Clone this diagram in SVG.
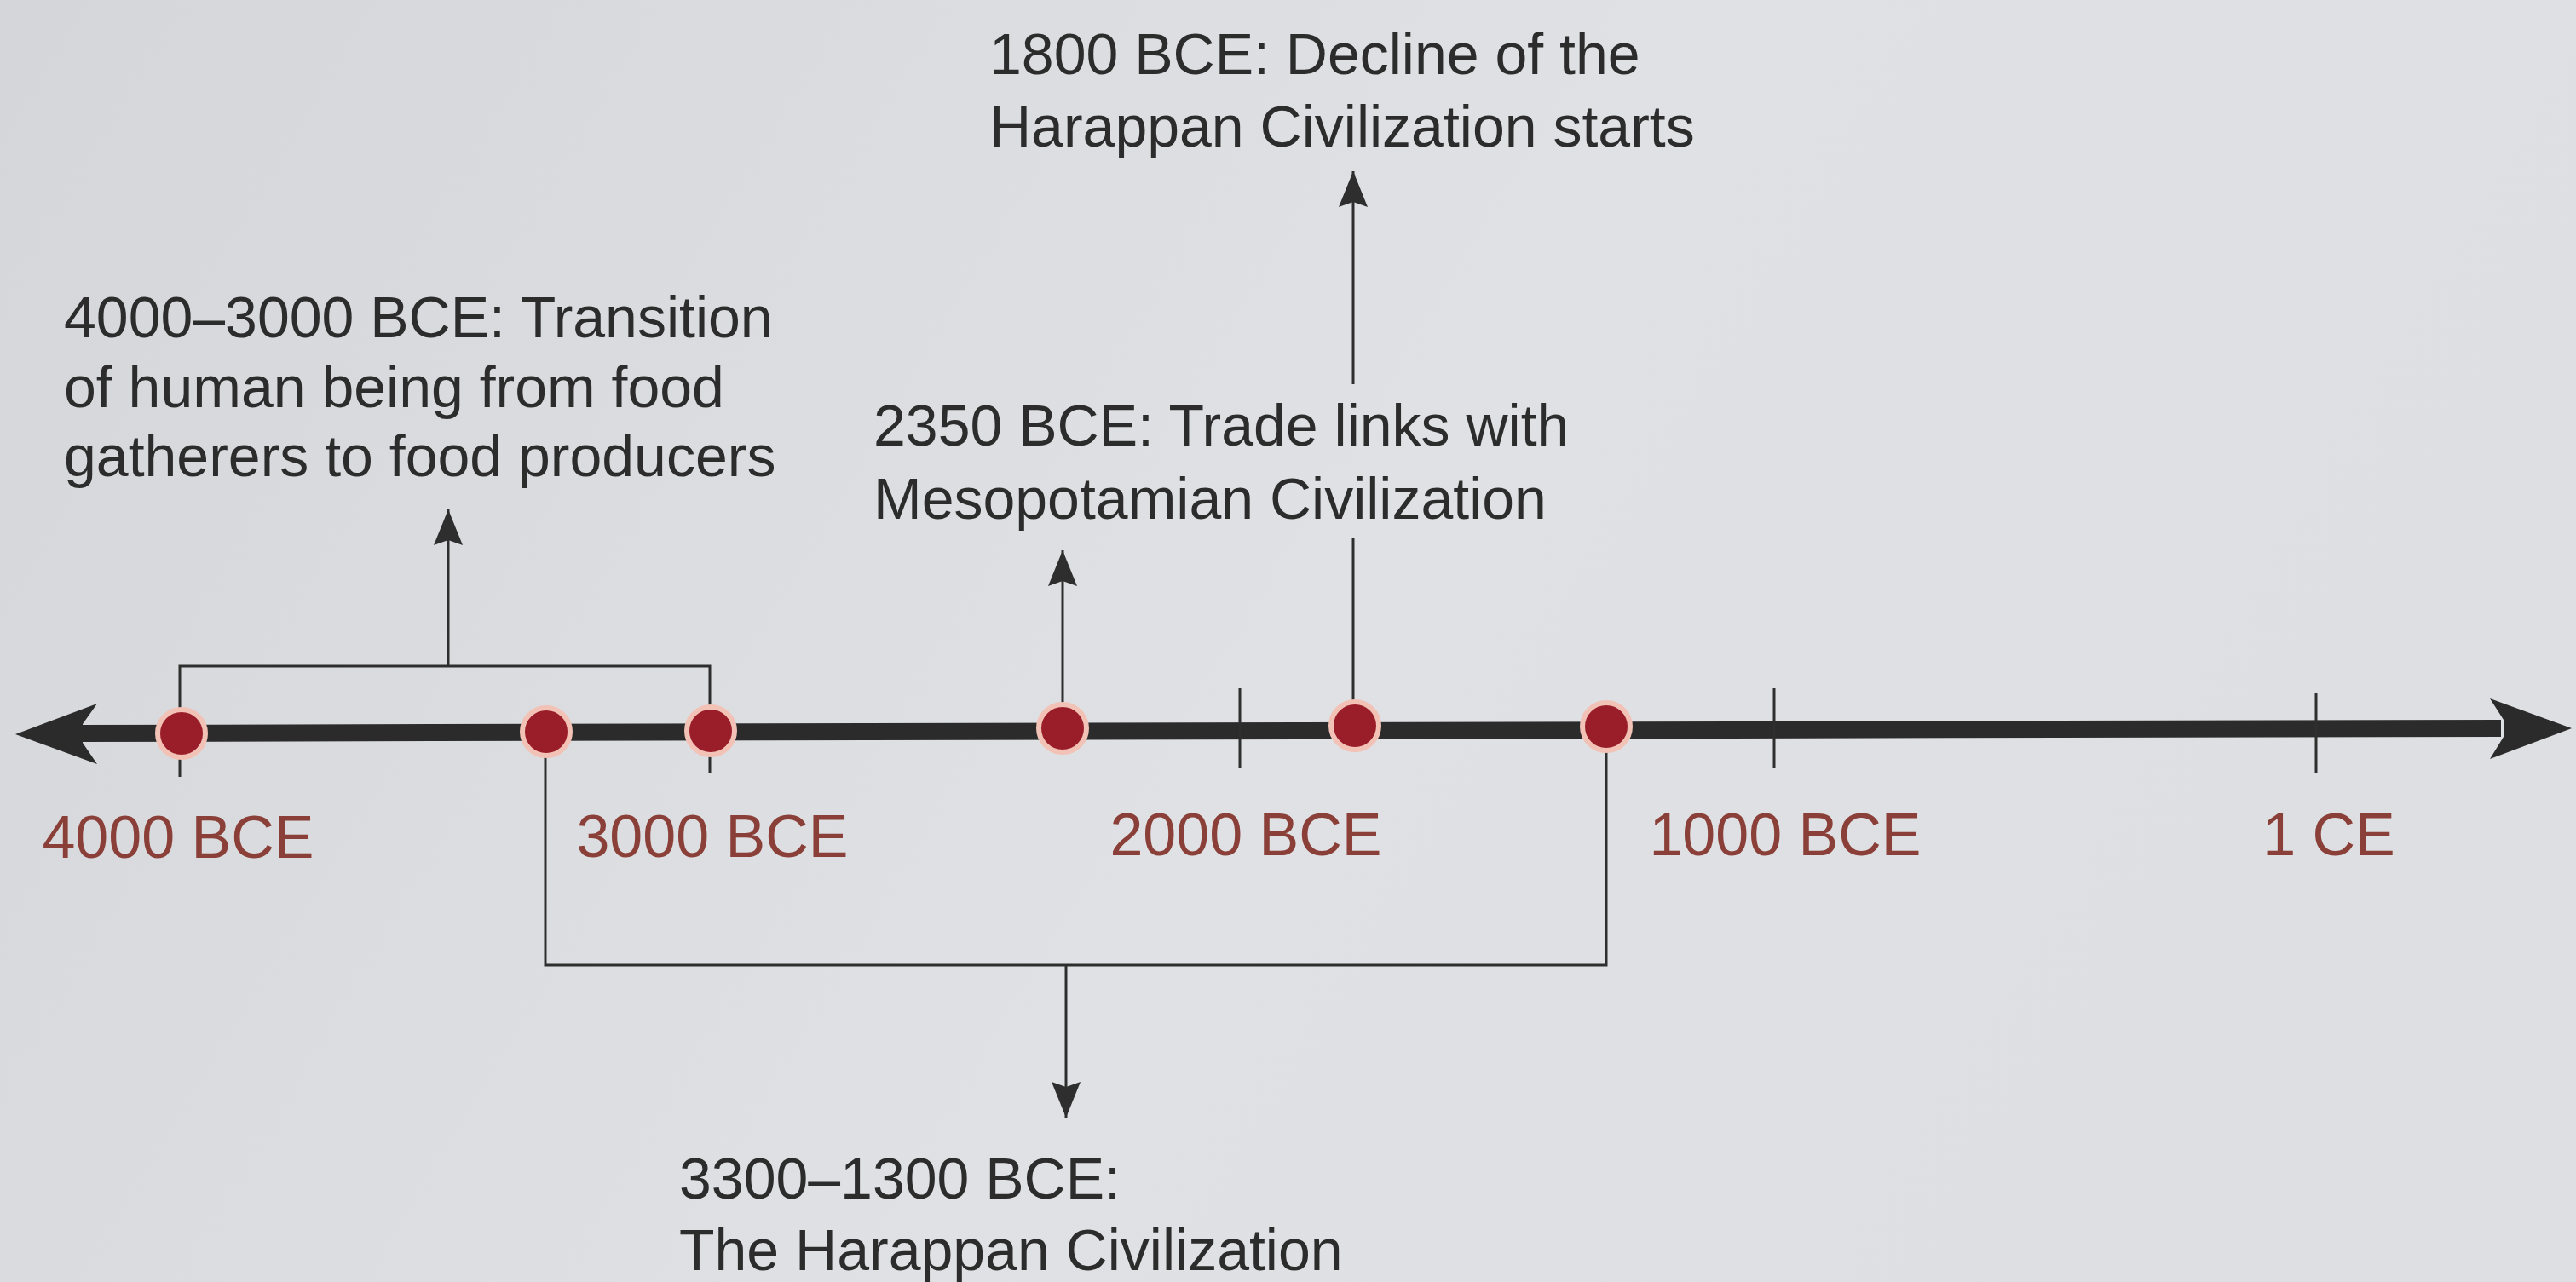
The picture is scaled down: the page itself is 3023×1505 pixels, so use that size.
<svg xmlns="http://www.w3.org/2000/svg" width="3023" height="1505" viewBox="0 0 3023 1505">
<defs>
<linearGradient id="bg" x1="0" y1="0" x2="1" y2="0.3">
<stop offset="0" stop-color="#d5d6d9"/>
<stop offset="0.6" stop-color="#e0e1e4"/>
<stop offset="1" stop-color="#dedfe2"/>
</linearGradient>
<marker id="ah" markerUnits="userSpaceOnUse" markerWidth="44" markerHeight="34" refX="42" refY="17" orient="auto">
<path d="M0,0 L42,17 L0,34 L6,17 Z" fill="#2e2e2e"/>
</marker>
<style>
.t{font-family:"Liberation Sans",Arial,Helvetica,sans-serif;font-size:68px;fill:#2c2c2c}
.lab{font-family:"Liberation Sans",Arial,Helvetica,sans-serif;font-size:70px;fill:#8a4038;text-anchor:middle}
.ln{stroke:#2e2e2e;stroke-width:3;fill:none}
.dot{fill:#9a1d2a;stroke:#f2c2b6;stroke-width:6}
</style>
</defs>
<rect width="3023" height="1505" fill="url(#bg)"/>

<g id="axis">
<path d="M90,851 L2935,845 L2935,865 L90,871 Z" fill="#2b2b2b"/>
<path d="M18,862 L114,826 L97,850 L97,872 L114,897 Z" fill="#2b2b2b"/>
<path d="M3018,855 L2922,820 L2938,845 L2938,865 L2922,891 Z" fill="#2b2b2b"/>
<line class="ln" x1="1455" y1="808" x2="1455" y2="902"/>
<line class="ln" x1="2082" y1="808" x2="2082" y2="902"/>
<line class="ln" x1="2718" y1="813" x2="2718" y2="907"/>
</g>

<g id="connectors">
<path class="ln" d="M211,912 L211,782 L833,782 L833,907"/>
<line class="ln" x1="526" y1="782" x2="526" y2="598" marker-end="url(#ah)"/>
<line class="ln" x1="1247" y1="830" x2="1247" y2="646" marker-end="url(#ah)"/>
<line class="ln" x1="1588" y1="830" x2="1588" y2="632"/>
<line class="ln" x1="1588" y1="451" x2="1588" y2="201" marker-end="url(#ah)"/>
<path class="ln" d="M640,880 L640,1133 L1885,1133 L1885,880"/>
<line class="ln" x1="1251" y1="1133" x2="1251" y2="1312" marker-end="url(#ah)"/>
</g>

<g id="dot-4000"><circle class="dot" cx="213" cy="861" r="28"/></g>
<g id="dot-3300"><circle class="dot" cx="641" cy="859" r="28"/></g>
<g id="dot-3000"><circle class="dot" cx="834" cy="858" r="28"/></g>
<g id="dot-2350"><circle class="dot" cx="1247" cy="855" r="28"/></g>
<g id="dot-1800"><circle class="dot" cx="1590" cy="852" r="28"/></g>
<g id="dot-1300"><circle class="dot" cx="1885" cy="853" r="28"/></g>

<g id="axis-labels">
<text class="lab" x="209" y="1007">4000 BCE</text>
<text class="lab" x="836" y="1006">3000 BCE</text>
<text class="lab" x="1462" y="1004">2000 BCE</text>
<text class="lab" x="2095" y="1004">1000 BCE</text>
<text class="lab" x="2733" y="1004">1 CE</text>
</g>

<g id="label-transition">
<text class="t" x="75" y="396">4000–3000 BCE: Transition</text>
<text class="t" x="75" y="478">of human being from food</text>
<text class="t" x="75" y="559">gatherers to food producers</text>
</g>
<g id="label-trade">
<text class="t" x="1025" y="523">2350 BCE: Trade links with</text>
<text class="t" x="1025" y="609">Mesopotamian Civilization</text>
</g>
<g id="label-decline">
<text class="t" x="1161" y="87">1800 BCE: Decline of the</text>
<text class="t" x="1161" y="172">Harappan Civilization starts</text>
</g>
<g id="label-harappan">
<text class="t" x="797" y="1407">3300–1300 BCE:</text>
<text class="t" x="797" y="1491">The Harappan Civilization</text>
</g>
</svg>
